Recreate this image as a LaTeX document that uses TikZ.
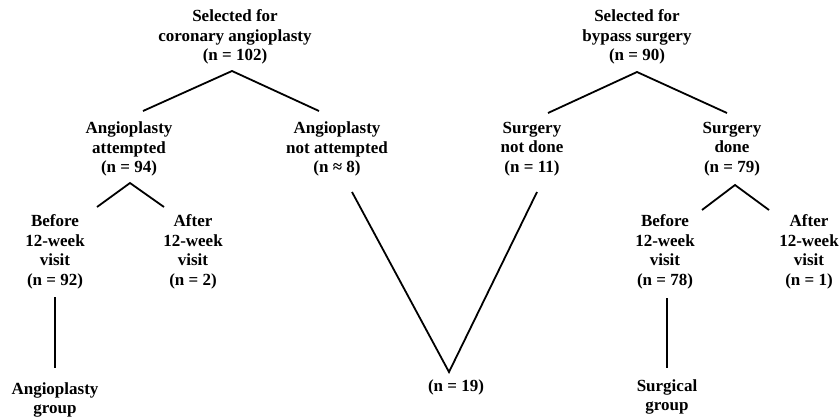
\documentclass[tikz,border=0pt]{standalone}
\usepackage{fontspec}
\setmainfont{Liberation Serif}
\begin{document}
\begin{tikzpicture}[x=1pt,y=-1pt,
  lbl/.style={font=\bfseries\fontsize{17}{19.5}\selectfont, align=center, inner sep=0pt},
  edge/.style={line width=1.8pt},
  stem/.style={line width=1.3pt}]
\useasboundingbox (0,0) rectangle (839,418);
% nodes
\node[lbl] (sa) at (235,37) {Selected for\\coronary angioplasty\\(n = 102)};
\node[lbl] (aa) at (129,149) {Angioplasty\\attempted\\(n = 94)};
\node[lbl] (an) at (337,149) {Angioplasty\\not attempted\\(n ≈ 8)};
\node[lbl] (ab) at (55,252) {Before\\12-week\\visit\\(n = 92)};
\node[lbl] (af) at (193,252) {After\\12-week\\visit\\(n = 2)};
\node[lbl] (ag) at (55,400) {Angioplasty\\group};
\node[lbl] (n19) at (456,387) {(n = 19)};
\node[lbl] (sb) at (637,37) {Selected for\\bypass surgery\\(n = 90)};
\node[lbl] (sn) at (532,149) {Surgery\\not done\\(n = 11)};
\node[lbl] (sd) at (732,149) {Surgery\\done\\(n = 79)};
\node[lbl] (bb) at (665,252) {Before\\12-week\\visit\\(n = 78)};
\node[lbl] (bf) at (809,252) {After\\12-week\\visit\\(n = 1)};
\node[lbl] (sg) at (667,397) {Surgical\\group};
% connector points
\coordinate (p1) at (232,71);  \coordinate (p1l) at (143,111); \coordinate (p1r) at (319,111);
\coordinate (p2) at (130,183); \coordinate (p2l) at (97,207);  \coordinate (p2r) at (164,207);
\coordinate (v1) at (55,297);  \coordinate (v1b) at (55,368);
\coordinate (vl) at (352,192); \coordinate (vb) at (449,372);  \coordinate (vr) at (537,192);
\coordinate (p3) at (637,72);  \coordinate (p3l) at (548,113); \coordinate (p3r) at (727,113);
\coordinate (p4) at (735,185); \coordinate (p4l) at (702,210); \coordinate (p4r) at (769,210);
\coordinate (v2) at (667,298); \coordinate (v2b) at (667,368);
% connectors
\draw[edge] (p1l) -- (p1) -- (p1r);
\draw[edge] (p2l) -- (p2) -- (p2r);
\draw[stem] (v1) -- (v1b);
\draw[edge] (vl) -- (vb) -- (vr);
\draw[edge] (p3l) -- (p3) -- (p3r);
\draw[edge] (p4l) -- (p4) -- (p4r);
\draw[stem] (v2) -- (v2b);
\end{tikzpicture}
\end{document}
